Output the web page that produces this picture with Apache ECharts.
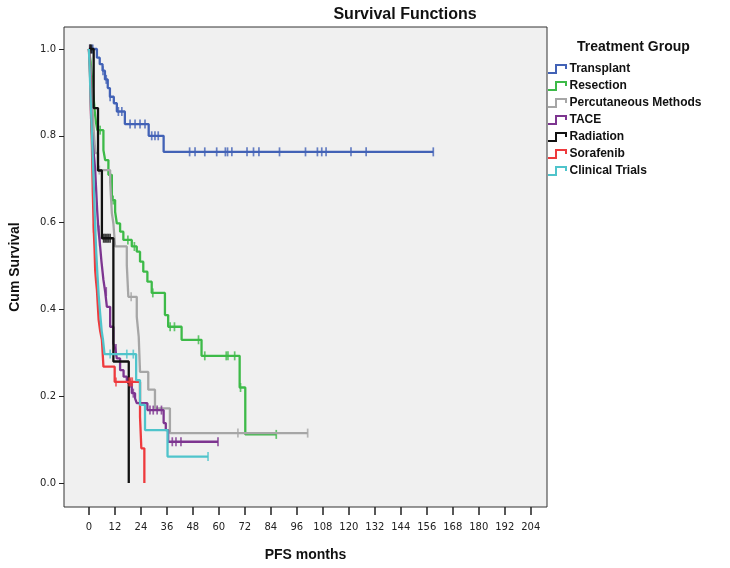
<!DOCTYPE html>
<html>
<head>
<meta charset="utf-8">
<script src="https://cdn.jsdelivr.net/npm/echarts@6/dist/echarts.min.js"></script>
<style>html,body{margin:0;padding:0;background:#fff;}#c{width:730px;height:568px;}</style>
</head>
<body>
<div id="c"></div>
<script>
// ---- data (months, cumulative survival) ----
const groupNames = ['Transplant','Resection','Percutaneous Methods','TACE','Radiation','Sorafenib','Clinical Trials'];
const xTicks = [0,12,24,36,48,60,72,84,96,108,120,132,144,156,168,180,192,204];
const yTicks = [0,0.2,0.4,0.6,0.8,1.0];

const transplantTimes = [0,3.7,5.0,6.3,7.4,8.7,9.7,11.5,12.9,16.6,27.6,34.5,159];
const transplantSurv  = [1.0,0.98,0.965,0.95,0.93,0.91,0.89,0.875,0.856,0.827,0.80,0.763,0.763];
const transplantCens  = [1.0,1.8,6.5,8.0,9.8,13.6,15.2,19,21.3,23.6,25.9,29,30.5,32,46.5,49,53.5,59,63,64,66,73,76,78.5,88,100,105.5,107.5,109.5,121,128,159];

const resectionTimes = [0,0.8,1.3,1.8,2.3,2.8,3.3,3.9,6.7,7.5,9.0,10.6,12.1,12.9,14.4,15.9,19.8,22.1,23.6,25.1,27.0,29.0,35.1,36.6,42.8,52.0,69.6,72.2,86.5];
const resectionSurv  = [1.0,0.97,0.94,0.91,0.88,0.85,0.83,0.813,0.767,0.744,0.71,0.652,0.625,0.598,0.579,0.56,0.545,0.533,0.51,0.487,0.464,0.438,0.387,0.36,0.33,0.293,0.22,0.112,0.112];
const resectionCens  = [0.4,5.2,9.7,11.2,18.0,21.0,29.5,37.5,39.5,50.6,53.5,63.4,64.2,67.3,70.0,86.5];

const percTimes = [0,0.8,1.3,1.8,2.4,3.0,4.2,9.8,10.6,11.3,12.1,17.5,18.2,22.1,23.0,23.6,27.4,30.5,37.4,101];
const percSurv  = [1.0,0.95,0.9,0.85,0.8,0.76,0.721,0.694,0.622,0.598,0.545,0.502,0.429,0.383,0.337,0.256,0.215,0.172,0.115,0.115];
const percCens  = [1.3,4.8,19.5,68.8,101];

const taceTimes = [0,0.5,0.8,1.0,1.5,2.0,2.5,2.9,3.3,3.8,4.4,5.0,5.8,6.7,7.5,8.3,9.8,11.3,12.1,12.9,14.4,16.0,17.5,18.2,19.8,21.3,22.1,27.0,34.5,35.5,36.6,59.6];
const taceSurv  = [1.0,0.96,0.9,0.84,0.8,0.77,0.745,0.72,0.68,0.63,0.583,0.555,0.51,0.468,0.441,0.406,0.36,0.322,0.31,0.287,0.26,0.245,0.237,0.23,0.207,0.195,0.184,0.168,0.138,0.122,0.095,0.095];
const taceCens  = [0.4,1.0,4.6,5.0,8.0,12.5,19.0,20.5,28.2,29.7,31.5,33.5,38.5,40.2,42.5,59.6];

const radiationTimes = [0,2.2,4.2,6.0,11.3,18.4];
const radiationSurv  = [1.0,0.864,0.72,0.564,0.28,0.0];
const radiationCens  = [0.6,1.2,6.8,7.5,8.3,9.0,9.8];

const sorafenibTimes = [0,0.3,0.6,0.8,1.0,1.2,1.4,1.6,1.8,2.0,2.2,2.6,2.9,3.3,3.7,4.1,4.5,5.2,6.0,6.7,11.9,23.6,24.2,25.6];
const sorafenibSurv  = [1.0,0.965,0.93,0.89,0.85,0.81,0.775,0.72,0.67,0.63,0.587,0.54,0.49,0.465,0.445,0.41,0.376,0.35,0.33,0.268,0.233,0.153,0.08,0.0];
const sorafenibCens  = [0.6,1.4,1.8,2.2,12.5,18.6,19.3,20.0];

const trialsTimes = [0,0.5,1.0,1.5,2.0,2.5,2.9,3.4,3.9,4.5,5.2,5.9,6.5,7.2,21.8,23.6,25.9,36.3,55];
const trialsSurv  = [1.0,0.93,0.86,0.79,0.72,0.65,0.59,0.53,0.483,0.433,0.39,0.35,0.33,0.297,0.237,0.18,0.122,0.061,0.061];
const trialsCens  = [3.0,9.8,17.5,20.5,55];

const groupColors = ['#4262b6','#3dba48','#a6a6a6','#7d3590','#111111','#ee3a3d','#4fc4cb'];

// ---- build ----
const groups = [
  [transplantTimes, transplantSurv, transplantCens],
  [resectionTimes, resectionSurv, resectionCens],
  [percTimes, percSurv, percCens],
  [taceTimes, taceSurv, taceCens],
  [radiationTimes, radiationSurv, radiationCens],
  [sorafenibTimes, sorafenibSurv, sorafenibCens],
  [trialsTimes, trialsSurv, trialsCens]
];
function survAt(times, surv, t){
  let s = surv[0];
  for (let i=0;i<times.length;i++){ if (times[i] <= t) s = surv[i]; }
  return s;
}
const series = [];
groups.forEach((g, k) => {
  const [times, surv, cens] = g;
  series.push({
    name: groupNames[k], type: 'line', step: 'end', showSymbol: false, symbol: 'none',
    data: times.map((t,i)=>[t, surv[i]]),
    lineStyle: {color: groupColors[k], width: 2.3},
    itemStyle: {color: groupColors[k]},
    z: 2 + k, clip: true, silent: true
  });
  series.push({
    name: groupNames[k] + ' censored', type: 'scatter',
    data: cens.map(t=>[t, survAt(times, surv, t)]),
    symbol: 'rect', symbolSize: [1.7, 9],
    itemStyle: {color: groupColors[k]},
    z: 2 + k, silent: true
  });
});

const stepIcon = 'path://M0,8 L7,8 L7,0 L19,0 L19,5 L17,5 L17,2 L9,2 L9,10 L0,10 Z';

const chart = echarts.init(document.getElementById('c'), null, {renderer: 'canvas'});
chart.setOption({
  animation: false,
  backgroundColor: '#ffffff',
  title: [
    {text: 'Survival Functions', left: 400, top: 2, textAlign: 'center',
     textStyle: {fontFamily: 'Liberation Sans', fontSize: 16, fontWeight: 'bold', color: '#111'}},
    {text: 'Treatment Group', left: 572, top: 35,
     textStyle: {fontFamily: 'Liberation Sans', fontSize: 14, fontWeight: 'bold', color: '#111'}}
  ],
  legend: {
    orient: 'vertical', left: 548, top: 62, itemWidth: 20, itemHeight: 10, itemGap: 3,
    padding: 0,
    data: groupNames.map(n => ({name: n, icon: stepIcon})),
    textStyle: {fontFamily: 'Liberation Sans', fontSize: 12, fontWeight: 'bold', color: '#111',
                padding: [0,0,0,-3], height: 14, lineHeight: 14},
    selectedMode: false
  },
  grid: {left: 62, top: 27, width: 485, height: 480, show: true,
         backgroundColor: '#f0f0f0', borderColor: '#333', borderWidth: 1},
  xAxis: {
    type: 'value', min: -11.5, max: 211.5,
    name: 'PFS months', nameLocation: 'middle', nameGap: 41,
    nameTextStyle: {fontFamily: 'Liberation Sans', fontSize: 14, fontWeight: 'bold', color: '#111'},
    axisLine: {show: false, onZero: false},
    axisTick: {show: true, length: 8, customValues: xTicks, lineStyle: {color: '#222', width: 1.5}},
    axisLabel: {customValues: xTicks, margin: 15, fontFamily: 'DejaVu Sans', fontSize: 10, color: '#222'},
    splitLine: {show: false}
  },
  yAxis: {
    type: 'value', min: -0.0553, max: 1.0507,
    name: 'Cum Survival', nameLocation: 'middle', nameGap: 42, nameRotate: 90,
    nameTextStyle: {fontFamily: 'Liberation Sans', fontSize: 14, fontWeight: 'bold', color: '#111'},
    axisLine: {show: false, onZero: false},
    axisTick: {show: true, length: 5, customValues: yTicks, lineStyle: {color: '#222'}},
    axisLabel: {customValues: yTicks, margin: 8, fontFamily: 'DejaVu Sans', fontSize: 10, color: '#222',
                formatter: v => v.toFixed(1)},
    splitLine: {show: false}
  },
  series: series
});
</script>
</body>
</html>
